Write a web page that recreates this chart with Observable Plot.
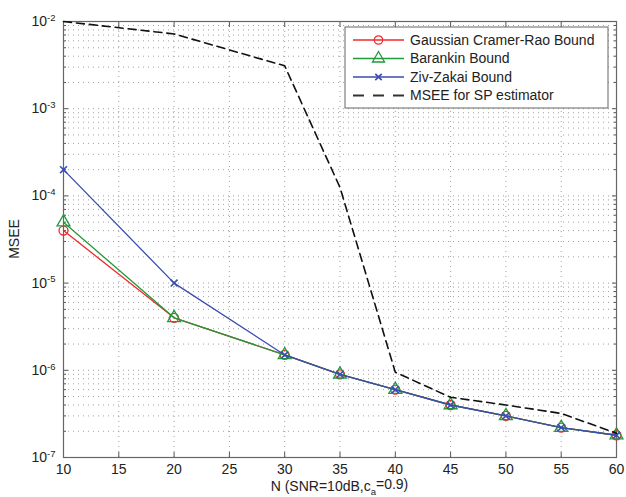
<!DOCTYPE html>
<html><head><meta charset="utf-8">
<script src="https://cdn.jsdelivr.net/npm/d3@7"></script>
<script src="https://cdn.jsdelivr.net/npm/@observablehq/plot@0.6"></script>
<style>
body{margin:0;background:#fff}
svg{font-family:"Liberation Sans",Arial,Helvetica,sans-serif}
</style>
</head><body><div id="chart"></div>
<script>
// ---- data ----
const N = [10, 20, 30, 35, 40, 45, 50, 55, 60];
const crb      = [4.0e-5, 4.0e-6, 1.5e-6, 9.0e-7, 6.0e-7, 4.0e-7, 3.0e-7, 2.2e-7, 1.8e-7];
const barankin = [5.0e-5, 4.0e-6, 1.5e-6, 9.0e-7, 6.0e-7, 4.0e-7, 3.0e-7, 2.2e-7, 1.8e-7];
const zzb      = [2.0e-4, 1.0e-5, 1.5e-6, 9.0e-7, 6.0e-7, 4.0e-7, 3.0e-7, 2.2e-7, 1.8e-7];
const msee     = [1.0e-2, 7.2e-3, 3.1e-3, 1.25e-4, 9.5e-7, 4.9e-7, 4.0e-7, 3.2e-7, 1.9e-7];
const seriesNames = ["Gaussian Cramer-Rao Bound", "Barankin Bound", "Ziv-Zakai Bound", "MSEE for SP estimator"];
const xTicks = [10, 15, 20, 25, 30, 35, 40, 45, 50, 55, 60];
const yMajor = [1e-7, 1e-6, 1e-5, 1e-4, 1e-3, 1e-2];
const xLabelMain = "N (SNR=10dB,c", xLabelSub = "a", xLabelEnd = "=0.9)";
const yLabel = "MSEE";

// ---- styles ----
const colors = ["#f02a2a", "#1f9a3c", "#3a4db0", "#111"];
const symbols = ["circle", "triangle", "times", null];

const yMinor = d3.range(-7, -2).flatMap(e => d3.range(2, 10).map(k => k * Math.pow(10, e)));
const yAll = yMajor.concat(yMinor);

const rows = (vals, name) => N.map((n, i) => ({N: n, v: vals[i], s: name}));
const dCrb = rows(crb, seriesNames[0]);
const dBar = rows(barankin, seriesNames[1]);
const dZzb = rows(zzb, seriesNames[2]);
const dMse = rows(msee, seriesNames[3]);

const gridStyle = {stroke: "#a0a0a0", strokeOpacity: 1, strokeDasharray: "1,4", strokeWidth: 1};
const noText = () => "";

const chart = Plot.plot({
  width: 626, height: 497,
  marginLeft: 63, marginRight: 10, marginTop: 21, marginBottom: 40,
  style: {fontFamily: '"Liberation Sans",Arial,sans-serif', fontSize: "14px", color: "#222", background: "#fff"},
  x: {domain: [10, 60]},
  y: {type: "log", domain: [1e-7, 1e-2]},
  marks: [
    Plot.gridX(xTicks, gridStyle),
    Plot.gridY(yAll, gridStyle),
    Plot.axisX({ticks: xTicks, tickSize: 0, tickPadding: 7, label: null, fontSize: 14}),
    Plot.axisX({ticks: xTicks, anchor: "bottom", tickSize: -5, tickFormat: noText, label: null, stroke: "#555"}),
    Plot.axisX({ticks: xTicks, anchor: "top", tickSize: -5, tickFormat: noText, label: null, stroke: "#555"}),
    Plot.axisY({ticks: yMajor, tickSize: 0, tickPadding: 8, tickFormat: d => "10^" + Math.round(Math.log10(d)), label: null, fontSize: 14}),
    Plot.axisY({ticks: yMajor, anchor: "left", tickSize: -5, tickFormat: noText, label: null, stroke: "#555"}),
    Plot.axisY({ticks: yMinor, anchor: "left", tickSize: -3, tickFormat: noText, label: null, stroke: "#555"}),
    Plot.axisY({ticks: yMajor, anchor: "right", tickSize: -5, tickFormat: noText, label: null, stroke: "#555"}),
    Plot.axisY({ticks: yMinor, anchor: "right", tickSize: -3, tickFormat: noText, label: null, stroke: "#555"}),
    Plot.frame({stroke: "#666", strokeWidth: 1.2}),
    Plot.line(dCrb, {x: "N", y: "v", stroke: colors[0], strokeWidth: 1.3}),
    Plot.dot(dCrb, {x: "N", y: "v", stroke: colors[0], symbol: "circle", r: 4.5, strokeWidth: 1.3}),
    Plot.line(dBar, {x: "N", y: "v", stroke: colors[1], strokeWidth: 1.3}),
    Plot.dot(dBar, {x: "N", y: "v", stroke: colors[1], symbol: "triangle", r: 4.8, strokeWidth: 1.3}),
    Plot.line(dZzb, {x: "N", y: "v", stroke: colors[2], strokeWidth: 1.3}),
    Plot.dot(dZzb, {x: "N", y: "v", stroke: colors[2], symbol: "times", r: 3.2, strokeWidth: 1.6}),
    Plot.line(dMse, {x: "N", y: "v", stroke: colors[3], strokeWidth: 1.6, strokeDasharray: "8,5"})
  ]
});
document.getElementById("chart").appendChild(chart);

const svg = d3.select(chart);
// superscript exponents on y tick labels
svg.selectAll('g[aria-label="y-axis tick label"] text').each(function() {
  const t = d3.select(this);
  const s = t.text();
  if (s.indexOf("^") < 0) return;
  const [base, exp] = s.split("^");
  t.text(base);
  t.append("tspan").attr("dy", "-0.55em").attr("font-size", "9.5px").text(exp);
});

// axis labels
const W = 626, H = 497, mL = 63, mR = 10, mT = 21, mB = 40;
const xl = svg.append("text").attr("x", (mL + W - mR) / 2).attr("y", 491)
  .attr("text-anchor", "middle").attr("font-size", 14).attr("fill", "#222");
xl.append("tspan").text(xLabelMain);
xl.append("tspan").attr("dy", "0.4em").attr("font-size", "9.5px").text(xLabelSub);
xl.append("tspan").attr("dy", "-0.4em").text(xLabelEnd);
svg.append("text").attr("transform", `translate(19,${(mT + H - mB) / 2}) rotate(-90)`)
  .attr("text-anchor", "middle").attr("font-size", 14).attr("fill", "#222").text(yLabel);

// legend
const lg = svg.append("g");
lg.append("rect").attr("x", 345).attr("y", 27).attr("width", 263).attr("height", 81)
  .attr("fill", "#fff").attr("stroke", "#666").attr("stroke-width", 1);
const rowY = [40, 58.5, 77, 95.5];
const symMap = {circle: d3.symbolCircle, triangle: d3.symbolTriangle, times: d3.symbolTimes};
const symR = {circle: 4.2, triangle: 4.5, times: 3.0};
seriesNames.forEach((name, i) => {
  const y = rowY[i];
  lg.append("line").attr("x1", 353).attr("x2", 404).attr("y1", y).attr("y2", y)
    .attr("stroke", i === 3 ? "#333" : colors[i]).attr("stroke-width", i === 3 ? 1.8 : 1.3)
    .attr("stroke-dasharray", i === 3 ? "11,9" : null);
  if (symbols[i]) {
    const r = symR[symbols[i]];
    lg.append("path").attr("transform", `translate(378.5,${y})`)
      .attr("d", d3.symbol(symMap[symbols[i]], r * r * Math.PI)())
      .attr("fill", "none").attr("stroke", colors[i]).attr("stroke-width", symbols[i] === "times" ? 1.6 : 1.3);
  }
  lg.append("text").attr("x", 410).attr("y", y).attr("dy", "0.35em")
    .attr("text-anchor", "start")
    .attr("font-size", 14).attr("fill", "#222").text(name);
});
</script>
</body></html>
